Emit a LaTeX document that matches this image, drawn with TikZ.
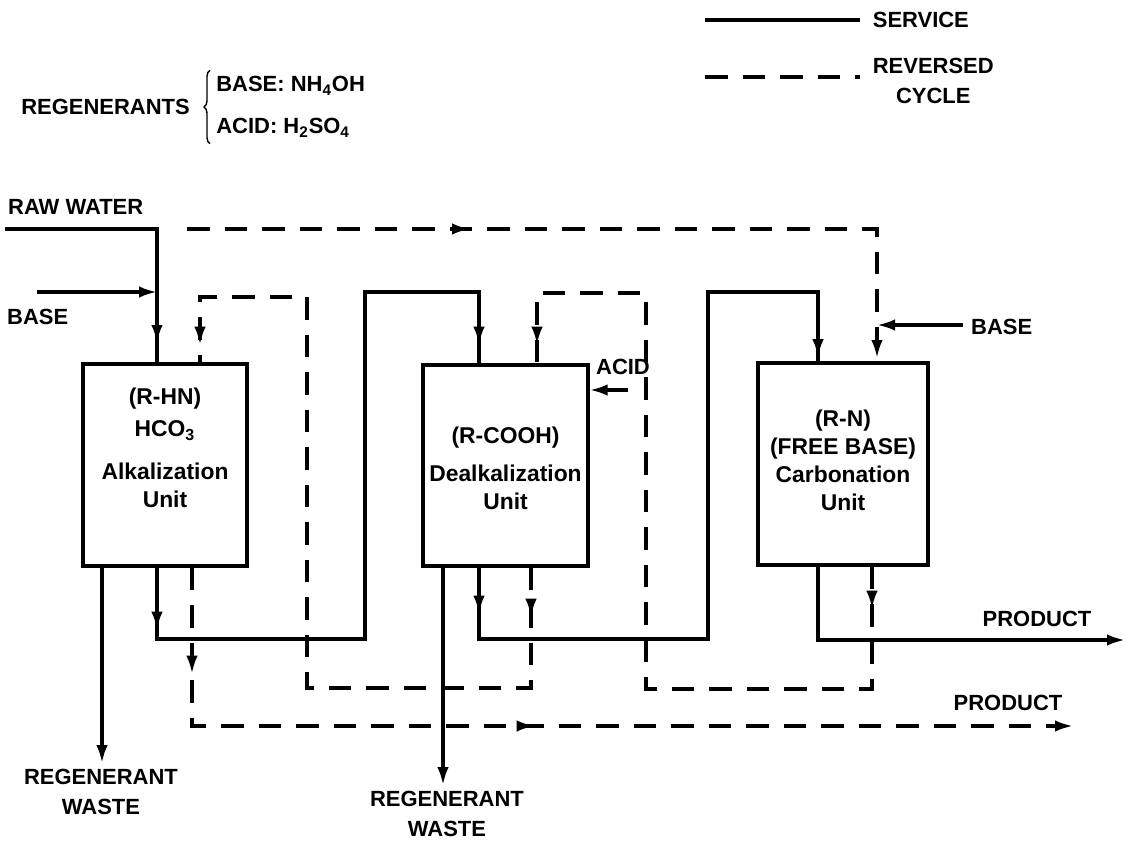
\documentclass[tikz,border=0pt]{standalone}
\usepackage{fontspec}
\setmainfont{Liberation Sans}
\usepackage{tikz}
\usetikzlibrary{arrows.meta,positioning,decorations.markings,decorations.pathreplacing}
\newcommand{\flowfont}{\fontsize{12.5}{17}\selectfont\bfseries}
\newcommand{\unitfont}{\fontsize{13}{15.9}\selectfont\bfseries}

\begin{document}
\begin{tikzpicture}[
  x=0.2mm, y=-0.2mm,
  font=\flowfont,
  flowtip/.tip={Latex[length=3.6mm,width=2.3mm]},
  unitbox/.style={draw, line width=1.9pt, minimum width=33mm, minimum height=40.4mm},
  unittext/.style={font=\unitfont, align=center, inner sep=0pt},
  lbl/.style={font=\flowfont, align=center},
  svc/.style={line width=1.8pt},
  rev/.style={line width=1.8pt, dash pattern=on 4.5mm off 3mm},
  bracket/.style={line width=0.8pt, decorate, decoration={brace, amplitude=1.2mm}},
  arrat/.style={postaction={decorate,
      decoration={markings, mark=at position #1 with {\arrow{flowtip}}}}},
  arrtwo/.style 2 args={postaction={decorate,
      decoration={markings, mark=at position #1 with {\arrow{flowtip}},
        mark=at position #2 with {\arrow{flowtip}}}}}
]
\useasboundingbox (0,0) rectangle (1128,847);

\node[unitbox, minimum width=32.8mm] (alk) at (165,465) {};
\node[unitbox, minimum height=40.2mm] (dealk) at (505.5,465.5) {};
\node[unitbox, minimum width=34mm] (carb) at (843,464) {};

\node[unittext, below=5mm of alk.north] (alktext)
  {(R-HN)\\[0.8mm]HCO\textsubscript{3}\\[3mm]Alkalization\\Unit};
\node[unittext, below=12.6mm of dealk.north] (dealktext)
  {(R-COOH)\\[2mm]Dealkalization\\Unit};
\node[unittext, below=9.6mm of carb.north] (carbtext)
  {(R-N)\\(FREE BASE)\\Carbonation\\Unit};

\node[lbl, anchor=east] (regen) at (196,107) {REGENERANTS};
\node[lbl, anchor=west, align=left, inner xsep=0pt] (regenlist) at (216,107)
  {BASE: NH\textsubscript{4}OH\\[2.4mm]ACID: H\textsubscript{2}SO\textsubscript{4}};
\draw[bracket] ([xshift=-1.2mm]regenlist.south west) -- ([xshift=-1.2mm]regenlist.north west);

\coordinate (svcleg) at (705,20);
\node[lbl, anchor=west, inner xsep=2.5mm] (service) at (860,20) {SERVICE};
\draw[svc] (svcleg) -- (service.west);
\coordinate (revleg) at (705,77);
\node[lbl, anchor=west, inner xsep=2.5mm] (reversed) at (860,81) {REVERSED\\CYCLE};
\draw[rev] (revleg) -- (revleg -| reversed.west);

\node[lbl, anchor=west] (raw) at (2,207) {RAW WATER};
\node[lbl, anchor=west] (basel) at (1,317) {BASE};
\node[lbl, anchor=west] (baser) at (965,327) {BASE};
\node[lbl] (acid) at (623,367) {ACID};
\node[lbl] (prod) at (1037,619) {PRODUCT};
\node[lbl] (prodrev) at (1008,703) {PRODUCT};
\node[lbl] (wastea) at (101,792) {REGENERANT\\WASTE};
\node[lbl] (wasteb) at (447,814) {REGENERANT\\WASTE};

\coordinate (rawin) at (5,229);
\coordinate (basein) at (37,292);
\coordinate (acidin) at (628,390);
\coordinate (basein2) at (963,325);
\coordinate (prodout) at (1125,640);
\coordinate (revin) at (187,229);
\coordinate (prodrevout) at (1073,726);

\draw[svc, arrat=53.2mm] (rawin) -| (157,0 |- alk.north);
\draw[svc, -flowtip] (basein) -- (157,0 |- basein);
\draw[svc, arrtwo={12.4mm}{158.6mm}] (157,0 |- alk.south) -- (157,639) -| (365,292) -| (479,0 |- dealk.north);
\draw[svc, arrtwo={9.2mm}{164.5mm}] (479,0 |- dealk.south) -- (479,639) -| (708,292) -| (818,0 |- carb.north);
\draw[svc, -flowtip] (818,0 |- carb.south) |- (prodout);
\draw[svc, -flowtip] (acidin) -- (dealk.east |- acidin);
\draw[svc, -flowtip] (basein2) -- (877,0 |- basein2);
\draw[svc, -flowtip] (102,0 |- alk.south) -- (102,0 |- wastea.north);
\draw[svc, -flowtip] (443,0 |- dealk.south) -- (443,0 |- wasteb.north);

\draw[rev, arrtwo={56.6mm}{163.8mm}] (revin) -| (877,0 |- carb.north);
\draw[rev, arrtwo={9.8mm}{178mm}] (531,0 |- dealk.south) -- (531,688) -| (307,297) -| (200,0 |- alk.north);
\draw[rev, arrtwo={8.4mm}{181mm}] (872,0 |- carb.south) -- (872,689) -| (646,293) -| (537,0 |- dealk.north);
\draw[rev, arrtwo={21.2mm}{100.2mm}, -flowtip] (192,0 |- alk.south) |- (prodrevout);
\end{tikzpicture}
\end{document}
